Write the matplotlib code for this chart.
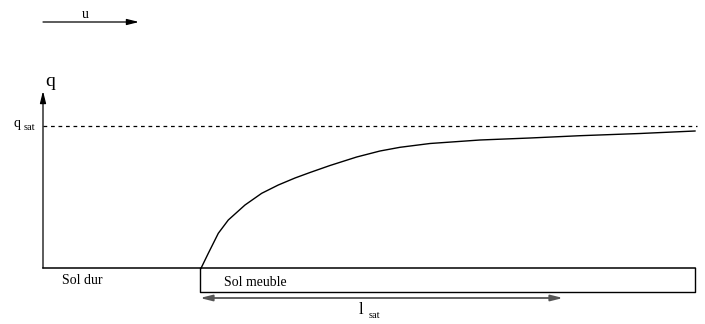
import numpy as np
import matplotlib.pyplot as plt

plt.rcParams['font.family'] = ['Liberation Serif', 'DejaVu Serif']

# courbe du flux q le long du sol meuble (coordonnées, en pixels)
x_courbe = [201, 208.3, 218.3, 228.3, 245, 261.7, 278.3, 295, 310, 330, 356.7, 380,
            400, 430, 480, 530, 580, 640, 695]
q_courbe = [268.3, 253.3, 233.3, 220, 205, 193.3, 185, 178, 172.5, 165.5, 157, 151,
            147.3, 143.5, 140, 138, 135.7, 133.5, 131]

q_sat = 126
sol = 268
x_debut_meuble = 200
x_fin = 695
l_sat_fin = 563

fig = plt.figure(figsize=(7.05, 3.24), dpi=100)
ax = fig.add_axes([0, 0, 1, 1])
ax.set_xlim(0, 705)
ax.set_ylim(324, 0)
ax.axis('off')

fleche = '-|>,head_length=1.2,head_width=0.3'

# vent u
ax.annotate('', xy=(139, 22), xytext=(43, 22),
            arrowprops=dict(arrowstyle=fleche, color='black', lw=0.9, mutation_scale=6,
                            shrinkA=0, shrinkB=0))
ax.text(85, 14, 'u', fontsize=10, ha='center', va='center')

# axe q
ax.annotate('', xy=(43, 91), xytext=(43, sol),
            arrowprops=dict(arrowstyle=fleche, color='black', lw=0.9, mutation_scale=6,
                            shrinkA=0, shrinkB=0))
ax.text(50, 82, 'q', fontsize=14, ha='center', va='center')
ax.text(17, 124, 'q', fontsize=10, ha='center', va='center')
ax.text(29, 127, 'sat', fontsize=7.5, ha='center', va='center')

# niveau de saturation
ax.plot([43, 697], [q_sat, q_sat], color='black', lw=0.9, ls=(0, (3, 3)))

# sol
ax.plot([43, x_fin], [sol, sol], color='black', lw=1.1)
ax.plot([x_debut_meuble, x_debut_meuble, x_fin, x_fin],
        [sol, 292, 292, sol], color='black', lw=1.0)
ax.text(62, 280, 'Sol dur', fontsize=10, ha='left', va='center')
ax.text(224, 283, 'Sol meuble', fontsize=10, ha='left', va='center')

# courbe
ax.plot(x_courbe, q_courbe, color='black', lw=1.0, solid_joinstyle='round')

# longueur de saturation
ax.annotate('', xy=(x_debut_meuble, 298), xytext=(l_sat_fin, 298),
            arrowprops=dict(arrowstyle='<|-|>,head_length=1.2,head_width=0.3',
                            color='#555555', lw=1.3, mutation_scale=6,
                            shrinkA=0, shrinkB=0))
ax.text(361, 310, 'l', fontsize=12, ha='center', va='center')
ax.text(374, 316, 'sat', fontsize=7.5, ha='center', va='center')

fig.savefig('out.png', dpi=100)
